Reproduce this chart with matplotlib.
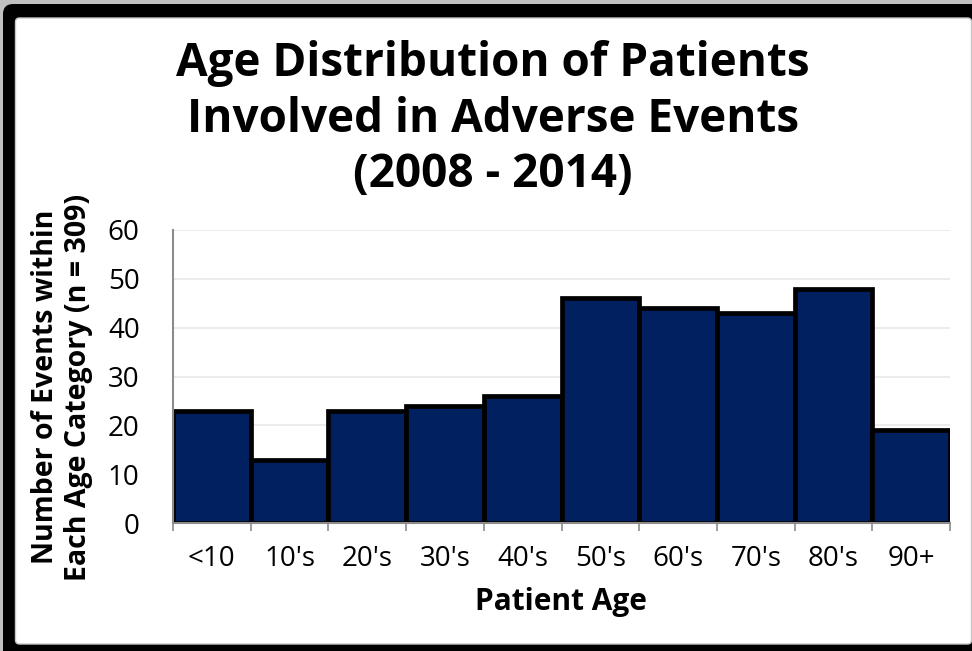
import matplotlib
matplotlib.use("Agg")
import matplotlib.pyplot as plt
from matplotlib.patches import FancyBboxPatch
from matplotlib.transforms import IdentityTransform
import numpy as np

age_groups = ["<10", "10's", "20's", "30's", "40's", "50's", "60's", "70's", "80's", "90+"]
event_counts = [23, 13, 23, 24, 26, 46, 44, 43, 48, 19]

plt.rcParams['font.family'] = ['Open Sans', 'DejaVu Sans']

W, H = 972, 651
fig = plt.figure(figsize=(W / 100, H / 100), dpi=100)
fig.patch.set_facecolor('#c0c0c0')

# black rounded frame with white panel inside (pixel coordinates)
frame = FancyBboxPatch((3, -30), 1000, H - 4 + 30, boxstyle="round,pad=0,rounding_size=10",
                       facecolor='black', edgecolor='none', transform=IdentityTransform())
panel = FancyBboxPatch((15.5, 7), 956, H - 18 - 7, boxstyle="round,pad=0,rounding_size=4",
                       facecolor='white', edgecolor='#c8c8c8', linewidth=1,
                       transform=IdentityTransform())
fig.patches.extend([frame, panel])

ax = fig.add_axes([173 / W, 1 - 523 / H, (950 - 173) / W, (523 - 230) / H])
ax.set_zorder(3)
ax.set_facecolor('none')

x = np.arange(len(age_groups))
ax.bar(x + 0.5, event_counts, width=1.0, color='#00205f', edgecolor='black',
       linewidth=3.4, zorder=3)

ax.set_xlim(0, len(age_groups))
ax.set_ylim(0, 60)
ax.set_yticks(range(0, 61, 10))
ax.yaxis.grid(True, color='#ececec', linewidth=1.5, zorder=0)
ax.set_axisbelow(True)

# ticks at the category boundaries, labels in the middle
ax.set_xticks(np.arange(len(age_groups) + 1))
ax.set_xticklabels([])
ax.set_xticks(x + 0.5, minor=True)
ax.set_xticklabels(age_groups, minor=True)
ax.tick_params(axis='x', which='major', direction='out', length=6, width=1.2, color='#8c8c8c')
ax.tick_params(axis='x', which='minor', length=0, pad=16, labelsize=20)
ax.tick_params(axis='y', length=0, pad=24, labelsize=20)

for side in ('top', 'right'):
    ax.spines[side].set_visible(False)
for side in ('left', 'bottom'):
    ax.spines[side].set_color('#8c8c8c')
    ax.spines[side].set_linewidth(1.5)
    ax.spines[side].set_zorder(4)

fig.text(493 / W, 1 - 40 / H, "Age Distribution of Patients\nInvolved in Adverse Events\n(2008 - 2014)",
         ha='center', va='top', fontsize=33, fontweight='bold', linespacing=1.24)
fig.text(62 / W, 1 - 387 / H, "Number of Events within\nEach Age Category (n = 309)",
         ha='center', va='center', rotation=90, fontsize=20.5, fontweight='bold', linespacing=1.2)
fig.text(561 / W, 1 - 602 / H, "Patient Age", ha='center', va='center',
         fontsize=21.5, fontweight='bold')

fig.savefig("out.png", dpi=100, facecolor=fig.get_facecolor())
